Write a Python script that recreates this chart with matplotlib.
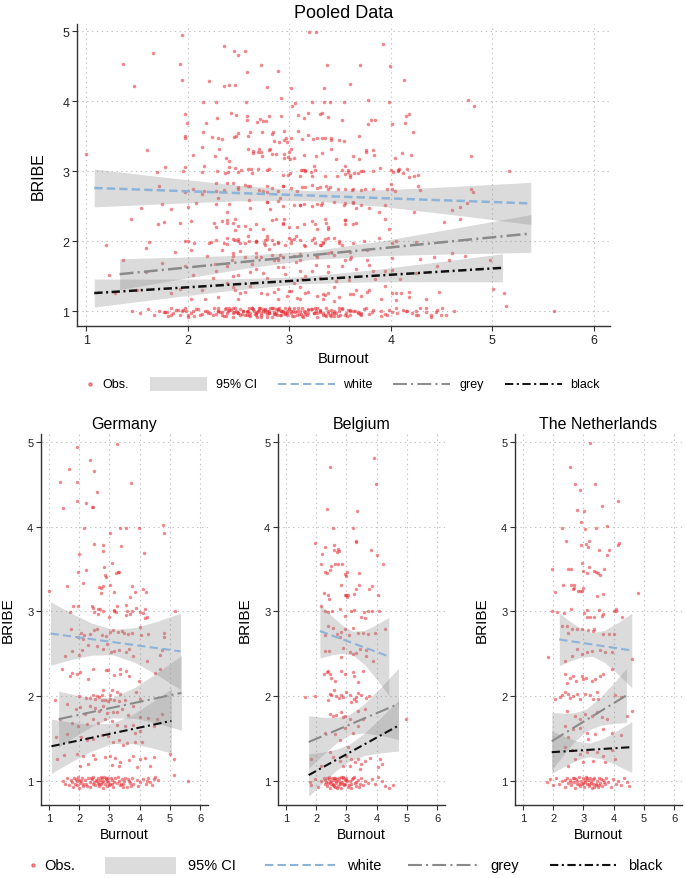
import numpy as np
import matplotlib
matplotlib.use("Agg")
import matplotlib.pyplot as plt
from matplotlib.lines import Line2D
from matplotlib.patches import Rectangle

plt.rcParams['font.family'] = ['Liberation Sans', 'DejaVu Sans']
plt.rcParams['lines.scale_dashes'] = False

# ---------------- data ----------------
GROUPS = ["white", "grey", "black"]

GER_OBS = [
    (3.26,4.98),(1.94,4.94),(2.36,4.79),(1.66,4.68),(2.50,4.66),(1.36,4.53),(1.92,4.53),(3.70,4.52),(2.58,4.41),(1.94,4.30),
    (2.21,4.28),(2.41,4.23),(2.47,4.23),(1.47,4.22),(2.15,3.99),(3.34,3.98),(3.54,3.98),(3.98,3.98),(4.76,4.02),(4.82,3.93),
    (3.03,3.93),(2.48,3.80),(2.80,3.78),(3.38,3.77),(2.77,3.71),(1.99,3.68),(4.14,3.69),(3.09,3.57),(2.83,3.53),(2.24,3.49),
    (1.97,3.47),(3.23,3.46),(3.32,3.47),(3.27,3.47),(2.85,3.43),(2.90,3.41),(2.14,3.34),(1.60,3.30),(2.64,3.29),(2.72,3.28),
    (2.80,3.30),(3.02,3.31),(3.76,3.30),(3.15,3.23),(2.73,3.22),(1.00,3.24),(3.69,3.17),(3.84,3.23),(4.11,3.26),(4.20,3.23),
    (1.78,3.06),(1.97,3.06),(2.41,3.06),(2.47,3.04),(2.62,3.03),(2.69,3.03),(2.78,3.01),(3.24,3.07),(3.55,3.08),(2.99,2.94),
    (3.14,3.02),(3.21,2.99),(3.16,3.01),(3.89,3.04),(3.73,3.00),(3.58,3.01),(3.68,2.97),(4.02,2.99),(4.12,2.98),(4.16,3.03),
    (4.18,2.92),(5.17,3.00),(1.70,2.99),(2.50,2.99),(2.63,2.97),(3.55,2.96),(4.23,2.93),
    (1.72,2.79),(2.05,2.75),(2.16,2.72),(2.36,2.73),(2.50,2.78),(2.59,2.79),(2.74,2.72),(2.89,2.71),(3.02,2.76),(3.13,2.78),
    (3.27,2.76),(3.40,2.77),(3.48,2.75),(3.62,2.73),(3.75,2.75),(4.00,2.82),(4.04,2.72),(4.29,2.73),(4.79,2.75),(4.81,2.70),
    (1.97,2.70),(2.14,2.68),(1.54,2.48),(1.75,2.53),(2.00,2.49),(2.08,2.54),(2.30,2.61),(2.60,2.59),(2.78,2.56),(2.91,2.62),
    (3.05,2.52),(3.15,2.53),(3.32,2.54),(3.54,2.52),(3.63,2.56),(3.79,2.48),(4.23,2.42),(4.75,2.54),(4.68,2.49),
    (1.44,2.32),(1.71,2.24),(1.77,2.27),(2.03,2.29),(1.92,2.26),(2.28,2.20),(2.47,2.32),(2.87,2.31),(2.95,2.31),(3.15,2.25),
    (3.35,2.32),(3.36,2.26),(3.55,2.30),(3.63,2.24),(3.98,2.18),(4.52,2.28),(4.68,2.32),
    (1.20,1.95),(2.78,2.07),(3.07,2.07),(3.24,2.05),(3.35,2.03),(2.47,2.02),(2.00,2.00),(2.21,1.98),(2.36,1.98),(2.52,1.97),
    (2.67,1.99),(2.76,1.95),(2.85,1.96),(2.96,1.94),(3.02,1.97),(3.15,1.95),(3.31,1.94),(3.52,1.95),(3.88,2.05),(4.01,1.97),
    (3.02,2.02),(2.60,2.00),(2.76,2.02),
    (1.59,1.91),(1.88,1.85),(2.03,1.87),(2.19,1.79),(2.34,1.88),(2.52,1.86),(2.67,1.83),(2.80,1.89),(2.91,1.80),(3.11,1.82),
    (3.26,1.81),(3.41,1.85),(3.61,1.78),(3.77,1.88),(4.01,1.76),(4.29,1.74),(4.57,1.73),(4.73,1.79),
    (1.36,1.73),(1.75,1.69),(1.97,1.65),(2.27,1.67),(2.44,1.73),(2.63,1.68),(2.85,1.73),(3.07,1.71),(3.26,1.66),(3.52,1.65),
    (3.79,1.66),(4.01,1.59),(4.46,1.65),
    (1.23,1.52),(1.59,1.56),(2.05,1.52),(2.25,1.48),(2.45,1.50),(2.74,1.54),(2.96,1.53),(3.13,1.46),(3.30,1.48),(3.46,1.43),
    (3.59,1.45),(3.85,1.46),(4.09,1.46),(3.83,1.57),
    (1.50,1.31),(1.28,1.26),(1.92,1.32),(2.14,1.30),(2.47,1.31),(2.52,1.26),(2.85,1.28),(3.02,1.29),(3.19,1.27),(3.35,1.23),
    (3.63,1.25),(3.79,1.30),(4.01,1.26),(4.18,1.27),(4.48,1.28),(5.01,1.32),(5.12,1.26),
    (2.03,1.18),(2.30,1.20),(3.08,1.19),(3.33,1.18),(3.90,1.17),(4.35,1.18),(5.14,1.07),
    (1.45,1.00),(1.53,0.97),(1.61,1.03),(1.67,0.95),(1.72,1.01),(1.77,0.99),(1.81,0.93),(1.84,1.04),(1.86,0.97),(1.89,1.02),
    (1.92,0.95),(1.94,1.00),(1.97,1.05),(2.00,0.92),(2.03,0.98),(2.08,1.03),(2.14,0.96),(2.19,1.01),(2.25,0.94),(2.30,1.04),
    (2.34,0.99),(2.36,0.93),(2.41,1.02),(2.45,0.97),(2.47,1.05),(2.52,0.95),(2.58,1.00),(2.61,0.98),(2.63,1.04),(2.67,0.94),
    (2.69,1.01),(2.72,0.97),(2.74,1.03),(2.78,0.92),(2.80,1.00),(2.83,1.05),(2.85,0.96),(2.89,1.02),(2.91,0.94),(2.94,0.99),
    (2.96,1.04),(3.02,0.97),(3.08,1.01),(3.13,0.93),(3.19,1.03),(3.24,0.98),(3.30,1.00),(3.35,0.95),(3.41,1.02),(3.46,0.97),
    (3.52,1.04),(3.57,0.93),(3.63,1.00),(3.68,0.98),(3.74,1.03),(3.79,0.96),(3.90,1.01),(3.96,0.94),(4.01,0.99),(4.12,1.02),
    (4.21,0.97),(4.29,1.04),(4.35,0.99),(4.46,1.02),(4.51,1.05),(4.62,1.01),(5.61,1.00),
    (2.05,1.00),(2.22,0.97),(2.38,1.04),(2.55,1.01),(2.66,0.96),(2.76,0.99),(2.87,1.03),(2.98,0.95),(3.05,1.04),(3.16,0.99),
    (3.27,1.05),(3.38,0.97),(3.49,1.00),(3.60,1.02),(3.71,0.94),(1.98,1.01),(2.12,0.94),(2.49,0.99),(2.71,1.05),(2.92,1.00),
    (3.10,0.96),(3.44,0.93),(4.25,1.00),(4.40,0.95),
]

BEL_OBS = [
    (3.92,4.81),(2.46,4.71),(3.99,4.50),(2.36,4.21),(3.34,4.19),(2.57,3.99),(3.22,3.98),(1.97,3.81),(3.32,3.83),(3.30,3.82),
    (2.29,3.76),(2.58,3.78),(2.71,3.74),(2.68,3.70),(2.74,3.71),(2.18,3.68),(3.81,3.73),(4.01,3.67),(2.58,3.73),(2.15,3.56),
    (2.50,3.54),(2.61,3.56),(2.73,3.56),(2.84,3.56),(4.22,3.56),(2.30,3.47),(2.34,3.46),(2.46,3.49),(2.95,3.44),(2.98,3.42),
    (3.02,3.47),(3.41,3.45),(2.81,3.31),(3.83,3.30),(3.76,3.27),(3.41,3.31),(3.32,3.26),(2.27,3.22),(2.38,3.19),(2.41,3.15),
    (2.95,3.19),(3.01,3.17),(2.99,3.20),(3.05,3.19),(3.26,3.21),(4.04,3.19),(2.16,3.07),(2.29,3.00),(2.40,2.99),(2.80,3.03),
    (2.53,3.01),(3.16,3.00),(3.25,3.02),(3.58,2.99),(3.71,3.00),(3.83,3.00),(4.07,3.01),(3.47,2.93),(3.60,2.92),(2.94,2.95),
    (2.39,2.83),(2.56,2.80),(2.70,2.73),(2.83,2.76),(2.94,2.79),(3.08,2.72),(3.22,2.80),(3.38,2.75),(3.55,2.75),(3.71,2.73),
    (3.96,2.75),(4.27,2.79),(2.28,2.72),(2.78,2.70),
    (2.28,2.53),(2.41,2.53),(2.89,2.57),(3.11,2.52),(3.22,2.50),(3.31,2.51),(3.44,2.56),(3.63,2.54),(3.88,2.42),(3.66,2.47),
    (2.81,2.46),
    (2.34,2.29),(2.39,2.30),(2.45,2.26),(2.50,2.22),(2.61,2.18),(2.83,2.30),(2.94,2.26),(3.22,2.29),(3.25,2.24),(3.38,2.17),
    (3.55,2.30),(2.26,2.26),
    (1.62,1.99),(1.97,2.00),(2.39,1.96),(2.50,2.01),(2.59,2.07),(2.67,2.00),(2.75,1.98),(2.83,2.02),(2.89,1.99),(3.00,2.05),
    (3.16,1.93),(3.25,1.97),(3.33,1.99),(3.38,2.04),(3.49,2.01),(3.63,1.98),(3.74,2.00),(3.30,1.94),(2.45,2.03),(3.11,2.02),
    (2.45,1.79),(2.56,1.77),(2.67,1.78),(2.83,1.81),(2.94,1.77),(3.11,1.73),(3.60,1.85),(3.38,1.83),(4.98,1.73),(2.89,1.76),
    (2.28,1.57),(2.61,1.56),(2.94,1.63),(3.22,1.57),(3.55,1.73),(2.78,1.48),(3.38,1.65),
    (2.45,1.34),(2.56,1.28),(2.78,1.24),(3.00,1.29),(3.05,1.40),(3.16,1.26),(3.27,1.22),(3.38,1.26),(3.49,1.20),(3.60,1.24),
    (3.77,1.27),(4.10,1.26),(4.18,1.20),(4.05,1.16),(3.44,1.14),(2.17,1.18),(2.89,1.18),(3.11,1.18),(1.84,1.26),
    (1.78,0.99),(1.84,0.95),(1.95,1.02),(2.06,0.93),(2.17,1.00),(2.26,1.04),(2.28,0.96),(2.30,1.01),(2.34,0.94),(2.37,1.03),
    (2.39,0.98),(2.41,1.05),(2.45,0.92),(2.48,1.00),(2.50,0.97),(2.52,1.03),(2.56,0.95),(2.59,1.01),(2.61,0.93),(2.63,1.04),
    (2.67,0.98),(2.70,1.02),(2.72,0.94),(2.74,1.00),(2.78,0.96),(2.81,1.05),(2.83,0.92),(2.85,0.99),(2.89,1.03),(2.92,0.95),
    (2.94,1.01),(2.96,0.97),(3.00,1.04),(3.05,0.93),(3.11,1.00),(3.16,0.96),(3.22,1.03),(3.27,0.98),(3.33,0.94),(3.38,1.01),
    (3.44,0.97),(3.49,1.04),(3.55,0.95),(3.60,1.00),(3.71,0.98),(3.83,1.02),(3.94,0.96),(4.05,1.05),(4.16,1.00),(4.27,0.94),
    (4.54,0.95),(4.40,0.92),
    (2.32,0.99),(2.43,1.02),(2.54,0.96),(2.65,1.00),(2.76,1.03),(2.87,0.97),(2.98,1.01),(3.08,0.95),(3.19,1.02),(3.30,0.99),
    (3.41,0.93),(2.60,1.04),(2.80,0.98),(3.02,1.00),(2.68,0.92),(2.90,1.05),(3.14,0.92),(2.46,0.99),(2.58,0.94),(3.25,1.05),
]

NLD_OBS = [
    (3.20,4.99),(2.56,4.71),(2.72,4.51),(3.37,4.51),(2.89,4.43),(4.13,4.30),(3.60,4.24),(2.78,4.20),(3.02,4.18),(2.92,4.05),
    (3.06,3.97),(2.28,3.98),(3.40,3.99),(3.78,4.01),(2.43,3.83),(3.19,3.83),(3.09,3.80),(2.92,3.78),(3.15,3.76),(4.18,3.81),
    (4.15,3.78),(3.52,3.73),(3.85,3.73),(3.78,3.67),(2.95,3.57),(1.97,3.50),(2.48,3.50),(2.59,3.50),(3.19,3.52),(2.97,3.48),
    (3.13,3.46),(3.35,3.48),(3.41,3.47),(3.49,3.45),(3.54,3.43),(3.69,3.50),(2.31,3.31),(2.59,3.31),(2.70,3.31),(3.00,3.28),
    (2.95,3.24),(2.83,3.24),(2.87,3.24),(2.64,3.26),(2.69,3.28),(2.05,3.23),(3.46,3.18),(3.63,3.21),(4.79,3.22),(1.95,3.00),
    (2.14,2.99),(2.37,2.98),(2.59,3.03),(3.01,2.98),(3.12,3.02),(3.52,3.02),(3.60,2.95),(3.64,2.97),(4.00,3.01),(4.08,3.03),
    (4.07,3.00),(4.27,2.94),(3.35,2.93),(3.22,2.93),(3.11,2.93),
    (2.28,2.83),(2.45,2.83),(2.61,2.79),(2.78,2.79),(2.94,2.79),(3.16,2.78),(3.30,2.77),(3.36,2.79),(3.63,2.74),(3.83,2.74),
    (4.01,2.74),(2.50,2.75),(1.84,2.46),(4.60,2.44),
    (2.39,2.42),(2.61,2.48),(2.78,2.56),(2.94,2.50),(3.11,2.52),(3.27,2.53),(3.71,2.52),(3.94,2.52),(3.55,2.54),
    (2.39,2.26),(2.56,2.22),(2.67,2.24),(2.74,2.18),(2.94,2.24),(3.00,2.20),(3.08,2.21),(3.27,2.18),(3.38,2.20),(3.55,2.24),
    (3.66,2.26),(3.94,2.32),(2.47,2.16),
    (2.06,1.97),(2.23,1.99),(2.39,2.05),(2.50,2.03),(2.56,1.98),(2.67,2.00),(2.78,2.03),(2.89,1.97),(3.05,2.03),(3.22,2.02),
    (3.33,1.97),(3.44,2.05),(3.49,1.97),(2.28,2.02),(4.05,2.01),(4.25,1.99),
    (2.45,1.83),(2.72,1.77),(2.89,1.73),(3.05,1.79),(3.27,1.77),(3.44,1.81),(3.60,1.75),(3.77,1.73),(4.43,1.77),(4.60,1.83),
    (2.39,1.65),(2.67,1.61),(2.89,1.63),(3.11,1.57),(3.38,1.56),(3.66,1.61),(3.94,1.57),(4.25,1.54),(2.50,1.52),(3.16,1.50),
    (2.39,1.40),(2.61,1.36),(2.89,1.32),(3.11,1.34),(3.44,1.34),(3.66,1.30),(3.94,1.36),(2.72,1.26),(2.98,1.22),(3.33,1.24),
    (3.71,1.22),(2.50,1.18),(4.05,1.26),
    (1.80,0.99),(1.90,1.02),(2.00,0.95),(2.10,1.03),(2.20,0.97),(2.30,1.00),(2.38,0.93),(2.45,1.04),(2.50,0.98),(2.55,1.01),
    (2.60,0.95),(2.64,1.03),(2.68,0.99),(2.72,0.92),(2.76,1.02),(2.80,0.97),(2.84,1.05),(2.88,0.94),(2.92,1.00),(2.96,0.96),
    (3.00,1.03),(3.03,0.93),(3.06,0.99),(3.09,1.05),(3.12,0.96),(3.15,1.01),(3.18,0.94),(3.21,1.03),(3.24,0.98),(3.27,0.92),
    (3.30,1.02),(3.33,0.97),(3.36,1.04),(3.40,0.95),(3.44,1.00),(3.48,0.93),(3.52,1.03),(3.56,0.98),(3.60,0.94),(3.65,1.01),
    (3.70,0.96),(3.76,1.04),(3.82,0.99),(3.90,0.93),(3.98,1.02),(4.06,0.97),(4.15,1.00),(4.25,0.95),(4.35,1.04),(4.45,0.99),
    (4.50,0.94),(2.58,0.99),(2.78,1.00),(2.98,0.98),(3.13,1.04),(3.26,1.00),(3.42,0.97),(3.58,1.02),(2.86,0.96),(3.04,1.01),
    (3.19,0.97),(2.70,1.04),(3.50,0.95),(3.68,0.99),(2.40,1.01),(3.36,0.93),
]

POOLED_OBS = GER_OBS + BEL_OBS + NLD_OBS

# linear fits: endpoints of the fitted line and 95% CI bands (read at knots)
FITS = {
    "pooled": {
        "white": dict(x=[1.08, 1.80, 2.50, 3.20, 3.90, 4.60, 5.38],
                      lo=[2.49, 2.537, 2.576, 2.581, 2.499, 2.38, 2.24],
                      hi=[3.03, 2.909, 2.798, 2.721, 2.733, 2.78, 2.84], y=[2.76, 2.54]),
        "grey": dict(x=[1.33, 1.95, 2.60, 3.20, 3.90, 4.60, 5.38],
                     lo=[1.31, 1.465, 1.621, 1.738, 1.794, 1.819, 1.84],
                     hi=[1.75, 1.773, 1.803, 1.858, 2.002, 2.177, 2.38], y=[1.53, 2.11]),
        "black": dict(x=[1.08, 1.70, 2.40, 3.10, 3.80, 4.45, 5.10],
                      lo=[1.06, 1.173, 1.294, 1.391, 1.42, 1.422, 1.42],
                      hi=[1.46, 1.459, 1.462, 1.491, 1.588, 1.702, 1.82], y=[1.26, 1.62]),
    },
    "Germany": {
        "white": dict(x=[1.05, 1.75, 2.40, 3.10, 3.85, 4.60, 5.35],
                      lo=[2.365, 2.435, 2.484, 2.49, 2.397, 2.247, 2.08],
                      hi=[3.115, 2.977, 2.864, 2.79, 2.809, 2.887, 2.98], y=[2.74, 2.53]),
        "grey": dict(x=[1.32, 1.90, 2.50, 3.10, 3.85, 4.60, 5.38],
                     lo=[1.40, 1.535, 1.662, 1.746, 1.739, 1.678, 1.60],
                     hi=[2.06, 2.013, 1.978, 1.986, 2.107, 2.284, 2.48], y=[1.73, 2.04]),
        "black": dict(x=[1.08, 1.70, 2.40, 3.10, 3.75, 4.40, 5.05],
                      lo=[1.09, 1.219, 1.352, 1.443, 1.442, 1.392, 1.33],
                      hi=[1.73, 1.695, 1.668, 1.683, 1.782, 1.93, 2.09], y=[1.41, 1.71]),
    },
    "Belgium": {
        "white": dict(x=[2.12, 2.50, 2.85, 3.20, 3.60, 4.00, 4.40],
                      lo=[2.45, 2.487, 2.506, 2.488, 2.373, 2.199, 2.01],
                      hi=[3.09, 2.953, 2.842, 2.768, 2.777, 2.847, 2.93], y=[2.77, 2.47]),
        "grey": dict(x=[1.75, 2.20, 2.65, 3.10, 3.60, 4.15, 4.72],
                     lo=[1.15, 1.303, 1.443, 1.545, 1.567, 1.537, 1.49],
                     hi=[1.77, 1.753, 1.749, 1.785, 1.913, 2.111, 2.33], y=[1.46, 1.91]),
        "black": dict(x=[1.75, 2.20, 2.65, 3.10, 3.60, 4.15, 4.72],
                      lo=[0.82, 0.975, 1.121, 1.235, 1.301, 1.333, 1.354],
                      hi=[1.32, 1.341, 1.373, 1.435, 1.567, 1.751, 1.954], y=[1.07, 1.654]),
    },
    "The Netherlands": {
        "white": dict(x=[2.20, 2.55, 2.90, 3.30, 3.70, 4.15, 4.60],
                      lo=[2.36, 2.416, 2.46, 2.47, 2.399, 2.257, 2.10],
                      hi=[2.98, 2.886, 2.804, 2.75, 2.779, 2.871, 2.98], y=[2.67, 2.54]),
        "grey": dict(x=[1.95, 2.35, 2.70, 3.10, 3.55, 4.00, 4.42],
                     lo=[1.13, 1.314, 1.464, 1.591, 1.656, 1.68, 1.69],
                     hi=[1.81, 1.80, 1.804, 1.851, 1.984, 2.156, 2.33], y=[1.47, 2.01]),
        "black": dict(x=[1.95, 2.35, 2.80, 3.20, 3.65, 4.10, 4.60],
                      lo=[1.09, 1.169, 1.249, 1.288, 1.256, 1.187, 1.10],
                      hi=[1.59, 1.529, 1.469, 1.448, 1.50, 1.591, 1.70], y=[1.34, 1.40]),
    },
}

X_TICKS = [1, 2, 3, 4, 5, 6]
Y_TICKS = [1, 2, 3, 4, 5]
LEGEND_LABELS = ["Obs.", "95% CI", "white", "grey", "black"]

# ---------------- style ----------------
RED = "#e8262e"
CI_COLOR = "#8f8f8f"
LINE_STYLE = {
    "white": dict(color="#8db3d8", dashes=(6, 3)),
    "grey": dict(color="#8a8a8a", dashes=(10, 3, 1.5, 3)),
    "black": dict(color="#111111", dashes=(6, 2.5, 1.5, 2.5)),
}

W, H = 685, 879
fig = plt.figure(figsize=(W / 100, H / 100), dpi=100)


def fx(px):
    return px / W


def fy(py):
    return 1 - py / H


def draw_panel(ax, obs, fits, xlim, ylim, tick_fs, lw, ms):
    obs = np.array(obs)
    ax.scatter(obs[:, 0], obs[:, 1], s=ms, color=RED, alpha=0.55, lw=0, zorder=1)
    for g in GROUPS:
        f = fits[g]
        ax.fill_between(f["x"], f["lo"], f["hi"], color=CI_COLOR, alpha=0.32, lw=0, zorder=2)
    for g in GROUPS:
        f = fits[g]
        st = LINE_STYLE[g]
        ax.plot([f["x"][0], f["x"][-1]], f["y"], color=st["color"], dashes=st["dashes"], lw=lw, zorder=3)
    ax.set_xlim(*xlim)
    ax.set_ylim(*ylim)
    ax.set_xticks(X_TICKS)
    ax.set_yticks(Y_TICKS)
    ax.tick_params(labelsize=tick_fs, length=3.5, width=0.8, color="#333333", labelcolor="#222222", pad=2)
    ax.grid(True, linestyle=(0, (1, 2.5)), color="#c4c4c4", lw=0.8, zorder=0)
    ax.set_axisbelow(True)
    for s in ["top", "right"]:
        ax.spines[s].set_visible(False)
    for s in ["left", "bottom"]:
        ax.spines[s].set_color("#333333")
        ax.spines[s].set_linewidth(1.0)


# top panel
ax0 = fig.add_axes([fx(77), fy(327), fx(610) - fx(77), (327 - 25) / H])
draw_panel(ax0, POOLED_OBS, FITS["pooled"], (0.91, 6.16), (0.79, 5.1), 9, 1.8, 6.5)
ax0.set_title("Pooled Data", fontsize=13, pad=5)
ax0.set_xlabel("Burnout", fontsize=10.5, labelpad=4)
ax0.set_ylabel("BRIBE", fontsize=11.5, labelpad=12)

# bottom panels
lefts = [41, 278, 515]
for left, name in zip(lefts, ["Germany", "Belgium", "The Netherlands"]):
    ax = fig.add_axes([fx(left), fy(806), 167 / W, (806 - 434.5) / H])
    draw_panel(ax, {"Germany": GER_OBS, "Belgium": BEL_OBS, "The Netherlands": NLD_OBS}[name],
               FITS[name], (0.735, 6.26), (0.717, 5.1), 8, 1.5, 6)
    ax.set_title(name, fontsize=11.5, pad=4)
    ax.set_xlabel("Burnout", fontsize=10, labelpad=3)
    ax.set_ylabel("BRIBE", fontsize=11, labelpad=9)


# legends (manual, figure coordinates)
def legend(y, pos, fs, box_h, lw):
    (mk, t_obs, bx0, bx1, t_ci, w0, w1, t_w, g0, g1, t_g, k0, k1, t_k) = pos
    fig.add_artist(Line2D([fx(mk)], [fy(y)], marker="o", ms=2.3, color=RED, alpha=0.5, lw=0,
                          transform=fig.transFigure))
    fig.text(fx(t_obs), fy(y), LEGEND_LABELS[0], fontsize=fs, va="center", ha="left")
    fig.add_artist(Rectangle((fx(bx0), fy(y + box_h / 2)), fx(bx1) - fx(bx0), box_h / H,
                             color="#dcdcdc", lw=0, transform=fig.transFigure))
    fig.text(fx(t_ci), fy(y), LEGEND_LABELS[1], fontsize=fs, va="center", ha="left")
    for (a, b, t, g, lab) in [(w0, w1, t_w, "white", LEGEND_LABELS[2]),
                              (g0, g1, t_g, "grey", LEGEND_LABELS[3]),
                              (k0, k1, t_k, "black", LEGEND_LABELS[4])]:
        st = LINE_STYLE[g]
        fig.add_artist(Line2D([fx(a), fx(b)], [fy(y), fy(y)], color=st["color"], dashes=st["dashes"],
                              lw=lw, transform=fig.transFigure))
        fig.text(fx(t), fy(y), lab, fontsize=fs, va="center", ha="left")


legend(385, (90, 102, 150, 207, 216, 278, 335, 343, 393, 450, 459, 505, 562, 570), 9, 14, 1.4)
legend(866, (33, 44, 105, 176, 188, 265, 335, 347, 408, 478, 490, 550, 618, 628), 10.5, 17, 1.5)

fig.savefig("out.png", dpi=100)
